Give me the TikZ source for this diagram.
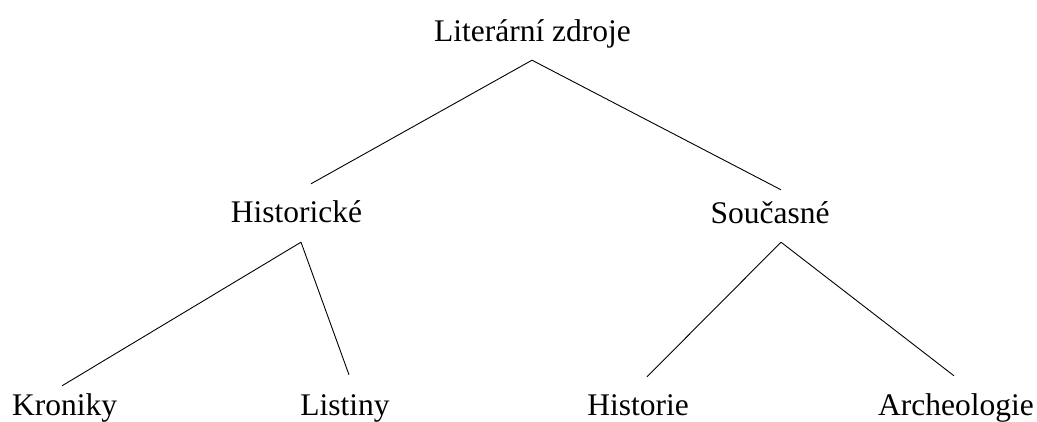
\documentclass[tikz,border=0pt]{standalone}
\usepackage{fontspec}
\setmainfont{Liberation Serif}
\usepackage{tikz}

\begin{document}
\begin{tikzpicture}[
        x=1pt, y=-1pt,
        label/.style={font=\fontsize{31.5}{38}\selectfont, inner sep=0pt, anchor=base, text height=22pt, text depth=7pt},
        line/.style={line width=0.9pt}
    ]
    \useasboundingbox (0,0) rectangle (1037,422);
    \node[label] (lit) at (532.5,42) {Literární zdroje};
    \node[label] (hist) at (296.5,223) {Historické};
    \node[label] (souc) at (770,223.5) {Současné};
    \node[label] (kron) at (64.7,415) {Kroniky};
    \node[label] (list) at (345,415) {Listiny};
    \node[label] (histor) at (638,415) {Historie};
    \node[label] (arch) at (956,415) {Archeologie};
    \draw[line] ([xshift=-0.5pt,yshift=-11pt]lit.south) -- ([xshift=14.5pt,yshift=17pt]hist.north);
    \draw[line] ([xshift=-0.5pt,yshift=-11pt]lit.south) -- ([xshift=11pt,yshift=11.5pt]souc.north);
    \draw[line] ([xshift=4.5pt,yshift=-12pt]hist.south) -- ([xshift=-2.7pt,yshift=7pt]kron.north);
    \draw[line] ([xshift=4.5pt,yshift=-12pt]hist.south) -- ([xshift=4pt,yshift=18pt]list.north);
    \draw[line] ([xshift=11pt,yshift=-11.5pt]souc.south) -- ([xshift=9pt,yshift=16pt]histor.north);
    \draw[line] ([xshift=11pt,yshift=-11.5pt]souc.south) -- ([xshift=-2pt,yshift=17pt]arch.north);
\end{tikzpicture}
\end{document}
